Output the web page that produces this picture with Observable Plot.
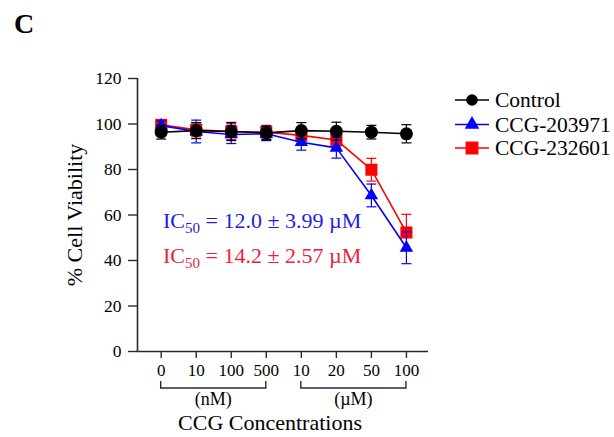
<!DOCTYPE html>
<html>
<head>
<meta charset="utf-8">
<script src="https://cdn.jsdelivr.net/npm/d3@7"></script>
<script src="https://cdn.jsdelivr.net/npm/@observablehq/plot@0.6"></script>
<style>
  html, body { margin: 0; padding: 0; background: #fff; }
  #chart { width: 614px; height: 437px; }
  #chart svg, #chart svg text { font-family: 'Liberation Serif', 'Times New Roman', serif; }
</style>
</head>
<body>
<div id="chart"></div>
<script>
// ---- data ----
const xLabels = ["0", "10", "100", "500", "10", "20", "50", "100"];
const unitGroups = ["(nM)", "(µM)"];
const groupStart = [0, 4];
const groupEnd = [3, 7];
const control = [96.4, 97.1, 96.7, 96.1, 97.1, 96.8, 96.4, 95.7];
const controlErr = [3, 3.5, 4, 3, 3.5, 4, 3, 4];
const ccg203971 = [99.3, 96.7, 95.4, 95.7, 92.0, 89.5, 68.6, 45.6];
const ccg203971Err = [2, 5, 4, 3, 3.5, 4.5, 5, 7];
const ccg232601 = [99.6, 97.4, 96.7, 96.4, 95.0, 93.0, 79.9, 52.3];
const ccg232601Err = [2, 3, 3.5, 3, 2.5, 3, 5, 8];
const yTicks = [0, 20, 40, 60, 80, 100, 120];
const seriesNames = ["Control", "CCG-203971", "CCG-232601"];
const ic50Texts = [["12.0", "3.99"], ["14.2", "2.57"]];

// ---- build ----
const seriesDefs = [
  {name: seriesNames[2], values: ccg232601, err: ccg232601Err, color: "#ff0000", symbol: "square", r: 6.8},
  {name: seriesNames[1], values: ccg203971, err: ccg203971Err, color: "#0000ff", symbol: "triangle", r: 5.0},
  {name: seriesNames[0], values: control, err: controlErr, color: "#000000", symbol: "circle", r: 6.5}
];
const rows = s => s.values.map((v, i) => ({i, v, lo: v - s.err[i], hi: v + s.err[i]}));

const capSymbol = {draw(ctx) { ctx.moveTo(-5, 0); ctx.lineTo(5, 0); }};
const xDom = [-0.676, 7.63];
const font = "'Liberation Serif', 'Times New Roman', serif";
const axisColor = "#2a2a2a";

const marks = [
  Plot.ruleX([xDom[0]], {stroke: axisColor, strokeWidth: 1.6}),
  Plot.ruleY([0], {stroke: axisColor, strokeWidth: 1.6}),
  Plot.axisY({ticks: yTicks, tickSize: 9, tickPadding: 7, label: null, fontSize: 17.5, fontFamily: font, stroke: axisColor, strokeWidth: 1.4}),
  Plot.axisX({ticks: d3.range(xLabels.length), tickFormat: i => xLabels[i], tickSize: 7, tickPadding: 5, label: null, fontSize: 17, fontFamily: font, stroke: axisColor, strokeWidth: 1.4})
];
for (const s of seriesDefs) {
  const d = rows(s);
  marks.push(
    Plot.ruleX(d, {x: "i", y1: "lo", y2: "hi", stroke: s.color, strokeWidth: 1.2}),
    Plot.dot(d, {x: "i", y: "hi", symbol: capSymbol, stroke: s.color, fill: "none", strokeWidth: 1.2}),
    Plot.dot(d, {x: "i", y: "lo", symbol: capSymbol, stroke: s.color, fill: "none", strokeWidth: 1.2}),
    Plot.line(d, {x: "i", y: "v", stroke: s.color, strokeWidth: 1.6}),
    Plot.dot(d, {x: "i", y: "v", symbol: s.symbol, r: s.r, fill: s.color, stroke: "none"})
  );
}

const chart = Plot.plot({
  width: 614, height: 437,
  marginLeft: 137, marginRight: 186, marginTop: 78, marginBottom: 86,
  x: {type: "linear", domain: xDom},
  y: {domain: [0, 120]},
  style: {fontFamily: font, color: "#000", background: "#fff", overflow: "visible"},
  marks
});
document.getElementById("chart").append(chart);

// ---- annotations using the plot's scales ----
const svg = d3.select(chart);
const xs = v => chart.scale("x").apply(v);
const g = svg.append("g").attr("font-family", font).attr("text-anchor", "start");

// panel letter
g.append("text").attr("x", 14).attr("y", 33).attr("font-size", 28).attr("font-weight", "bold").text("C");

// brackets
unitGroups.forEach((lab, k) => {
  const x0 = xs(groupStart[k]), x1 = xs(groupEnd[k]);
  g.append("path").attr("d", `M${x0},381V388H${x1}V381`).attr("fill", "none").attr("stroke", axisColor).attr("stroke-width", 1.4);
  g.append("text").attr("x", (x0 + x1) / 2).attr("y", 405).attr("text-anchor", "middle").attr("font-size", 18).text(lab);
});

// axis titles
g.append("text").attr("x", 270).attr("y", 430).attr("text-anchor", "middle").attr("font-size", 22).text("CCG Concentrations");
g.append("text").attr("transform", "translate(82,215) rotate(-90)").attr("text-anchor", "middle").attr("font-size", 22).text("% Cell Viability");

// IC50 annotations
const icColors = ["#1c1ce6", "#f0203c"];
const icY = [228, 263];
ic50Texts.forEach(([m, e], k) => {
  const t = g.append("text").attr("x", 163).attr("y", icY[k]).attr("font-size", 22).attr("fill", icColors[k]).attr("text-anchor", "start");
  t.append("tspan").text("IC");
  t.append("tspan").attr("dy", 5).attr("font-size", 15).text("50");
  t.append("tspan").attr("dy", -5).text(` = ${m} ± ${e} µM`);
});

// legend
const legendDefs = [seriesDefs[2], seriesDefs[1], seriesDefs[0]];
const legR = [5.8, 5.4, 7.3];
const legY = [100, 124.5, 148];
legendDefs.forEach((s, k) => {
  const y = legY[k];
  g.append("line").attr("x1", 455).attr("x2", 489).attr("y1", y).attr("y2", y).attr("stroke", s.color).attr("stroke-width", 1.6);
  const sym = {circle: d3.symbolCircle, triangle: d3.symbolTriangle, square: d3.symbolSquare}[s.symbol];
  g.append("path").attr("transform", `translate(472,${y})`).attr("d", d3.symbol(sym, Math.PI * legR[k] * legR[k])()).attr("fill", s.color);
  g.append("text").attr("x", 495).attr("y", y + 7).attr("font-size", 21.5).attr("text-anchor", "start").text(s.name);
});
</script>
</body>
</html>
